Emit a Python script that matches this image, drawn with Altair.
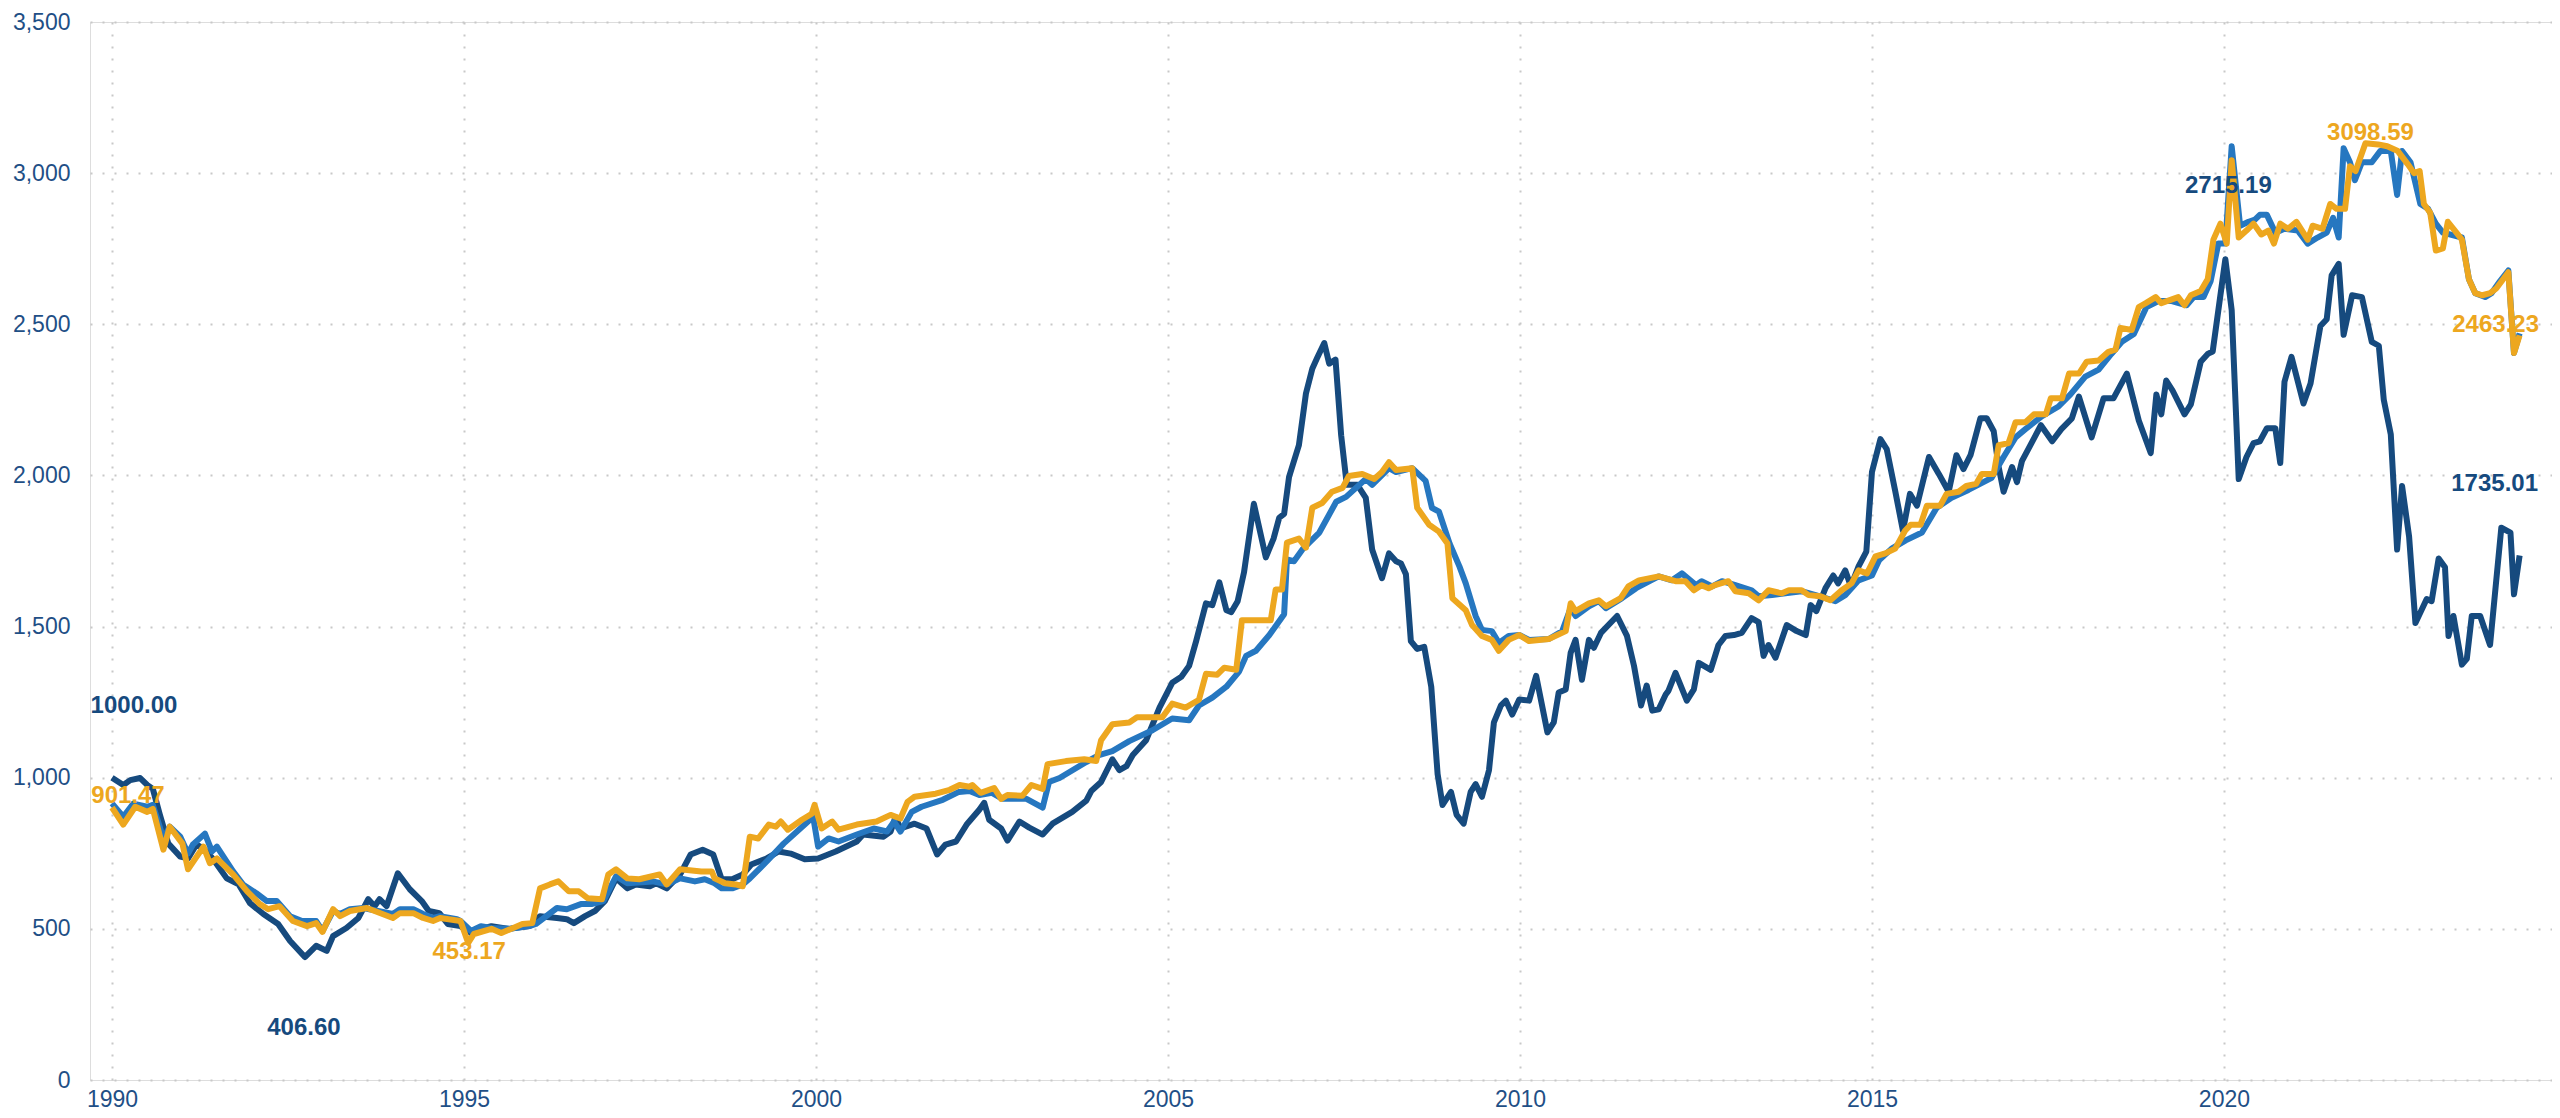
import altair as alt
import pandas as pd

# ---------------- data (decimal year, index value) ----------------
navy_t = [1990.00, 1990.16, 1990.26, 1990.40, 1990.50, 1990.58, 1990.68, 1990.80, 1990.97, 1991.08,
          1991.20, 1991.30, 1991.43, 1991.63, 1991.80, 1991.96, 1992.15, 1992.36, 1992.53, 1992.74,
          1992.90, 1993.05, 1993.14, 1993.33, 1993.50, 1993.64, 1993.73, 1993.80, 1993.90, 1994.06,
          1994.23, 1994.40, 1994.50, 1994.65, 1994.77, 1994.95, 1995.10, 1995.24, 1995.39, 1995.64,
          1995.93, 1996.08, 1996.32, 1996.46, 1996.56, 1996.72, 1996.86, 1997.00, 1997.16, 1997.32,
          1997.44, 1997.64, 1997.73, 1997.88, 1998.07, 1998.22, 1998.39, 1998.54, 1998.66, 1998.81,
          1998.96, 1999.08, 1999.30, 1999.47, 1999.64, 1999.84, 2000.03, 2000.28, 2000.58, 2000.67,
          2000.96, 2001.06, 2001.13, 2001.20, 2001.40, 2001.57, 2001.72, 2001.84, 2001.99, 2002.14,
          2002.32, 2002.39, 2002.46, 2002.63, 2002.72, 2002.89, 2003.03, 2003.22, 2003.36, 2003.64,
          2003.84, 2003.91, 2004.05, 2004.21, 2004.31, 2004.41, 2004.50, 2004.69, 2004.88, 2005.06,
          2005.19, 2005.30, 2005.40, 2005.54, 2005.63, 2005.73, 2005.83, 2005.90, 2005.99, 2006.08,
          2006.22, 2006.39, 2006.50, 2006.58, 2006.65, 2006.72, 2006.86, 2006.96, 2007.05, 2007.12,
          2007.22, 2007.29, 2007.38, 2007.46, 2007.54, 2007.69, 2007.81, 2007.90, 2008.04, 2008.14,
          2008.24, 2008.31, 2008.38, 2008.45, 2008.54, 2008.64, 2008.74, 2008.83, 2008.90, 2009.02,
          2009.10, 2009.20, 2009.30, 2009.37, 2009.46, 2009.56, 2009.63, 2009.73, 2009.80, 2009.89,
          2009.99, 2010.13, 2010.23, 2010.39, 2010.48, 2010.55, 2010.65, 2010.72, 2010.79, 2010.88,
          2010.98, 2011.05, 2011.15, 2011.38, 2011.52, 2011.62, 2011.72, 2011.80, 2011.88, 2011.97,
          2012.07, 2012.11, 2012.21, 2012.37, 2012.47, 2012.54, 2012.71, 2012.82, 2012.92, 2013.04,
          2013.15, 2013.29, 2013.39, 2013.46, 2013.53, 2013.63, 2013.79, 2013.93, 2014.06, 2014.13,
          2014.21, 2014.34, 2014.45, 2014.52, 2014.62, 2014.70, 2014.81, 2014.92, 2015.00, 2015.12,
          2015.21, 2015.33, 2015.44, 2015.54, 2015.64, 2015.81, 2015.95, 2016.09, 2016.20, 2016.30,
          2016.40, 2016.54, 2016.63, 2016.73, 2016.80, 2016.87, 2016.99, 2017.06, 2017.13, 2017.40,
          2017.56, 2017.69, 2017.84, 2017.94, 2018.12, 2018.29, 2018.43, 2018.62, 2018.79, 2018.96,
          2019.04, 2019.11, 2019.18, 2019.27, 2019.44, 2019.53, 2019.67, 2019.77, 2019.84, 2020.02,
          2020.11, 2020.21, 2020.32, 2020.42, 2020.51, 2020.61, 2020.73, 2020.80, 2020.86, 2020.96,
          2021.13, 2021.23, 2021.37, 2021.46, 2021.53, 2021.63, 2021.70, 2021.82, 2021.96, 2022.10,
          2022.20, 2022.27, 2022.37, 2022.46, 2022.53, 2022.63, 2022.72, 2022.88, 2022.95, 2023.05,
          2023.14, 2023.19, 2023.26, 2023.38, 2023.45, 2023.52, 2023.64, 2023.78, 2023.94, 2024.07,
          2024.12, 2024.20]
navy_v = [1000.00, 976, 992, 999, 976, 963, 877, 782, 739, 733,
          779, 766, 733, 667, 647, 585, 549, 516, 460, 406.60,
          444, 427, 476, 503, 536, 598, 575, 598, 575, 684,
          631, 592, 559, 552, 516, 509, 486, 500, 509, 500,
          509, 542, 536, 532, 519, 542, 559, 592, 667, 634,
          647, 641, 651, 634, 680, 746, 762, 746, 664, 664,
          680, 713, 733, 756, 749, 730, 733, 756, 789, 812,
          805, 822, 870, 832, 848, 832, 746, 779, 789, 845,
          894, 917, 861, 832, 792, 855, 835, 812, 848, 887,
          924, 956, 986, 1061, 1025, 1038, 1075, 1124, 1232, 1314,
          1334, 1370, 1452, 1577, 1571, 1646, 1554, 1548, 1584, 1679,
          1906, 1729, 1791, 1860, 1873, 1995, 2100, 2271, 2353, 2389,
          2438, 2370, 2383, 2133, 1969, 1969, 1926, 1755, 1660, 1742,
          1716, 1709, 1673, 1452, 1426, 1433, 1301, 1012, 910, 953,
          877, 848, 953, 979, 937, 1025, 1183, 1239, 1255, 1209,
          1259, 1255, 1337, 1150, 1183, 1282, 1292, 1413, 1456, 1324,
          1456, 1430, 1479, 1535, 1469, 1370, 1239, 1305, 1222, 1226,
          1275, 1288, 1347, 1255, 1292, 1380, 1357, 1439, 1469, 1472,
          1479, 1528, 1515, 1403, 1439, 1397, 1505, 1485, 1472, 1571,
          1551, 1627, 1669, 1643, 1686, 1633, 1699, 1748, 2011, 2120,
          2087, 1949, 1817, 1939, 1900, 2061, 2005, 1946, 2067, 2021,
          2067, 2189, 2189, 2146, 2028, 1946, 2028, 1978, 2047, 2166,
          2113, 2153, 2189, 2261, 2126, 2255, 2255, 2337, 2182, 2074,
          2268, 2202, 2314, 2281, 2202, 2235, 2376, 2402, 2410, 2715.19,
          2547, 1988, 2061, 2107, 2113, 2156, 2156, 2041, 2310, 2392,
          2238, 2304, 2494, 2517, 2662, 2700, 2465, 2596, 2590, 2442,
          2429, 2251, 2136, 1755, 1965, 1798, 1512, 1591, 1584, 1725,
          1696, 1469, 1535, 1374, 1393, 1535, 1535, 1439, 1827, 1811,
          1607, 1735.01]

blue_t = [1990.00, 1990.16, 1990.30, 1990.50, 1990.58, 1990.73, 1990.82, 1990.97, 1991.08, 1991.15,
          1991.32, 1991.42, 1991.49, 1991.72, 1991.86, 1992.05, 1992.20, 1992.34, 1992.53, 1992.70,
          1992.90, 1992.99, 1993.14, 1993.24, 1993.38, 1993.57, 1993.99, 1994.09, 1994.28, 1994.42,
          1994.56, 1994.66, 1994.90, 1994.95, 1995.10, 1995.24, 1995.39, 1995.64, 1995.93, 1996.02,
          1996.32, 1996.46, 1996.66, 1996.81, 1996.98, 1997.16, 1997.32, 1997.68, 1997.88, 1998.07,
          1998.28, 1998.42, 1998.56, 1998.66, 1998.81, 1998.96, 1999.06, 1999.30, 1999.54, 1999.84,
          1999.96, 2000.03, 2000.18, 2000.32, 2000.58, 2000.82, 2001.01, 2001.11, 2001.20, 2001.36,
          2001.50, 2001.80, 2002.03, 2002.18, 2002.32, 2002.50, 2002.65, 2002.99, 2003.22, 2003.31,
          2003.46, 2003.84, 2004.02, 2004.21, 2004.45, 2004.78, 2005.06, 2005.30, 2005.44, 2005.63,
          2005.83, 2006.01, 2006.11, 2006.25, 2006.44, 2006.65, 2006.69, 2006.79, 2006.91, 2007.15,
          2007.39, 2007.53, 2007.81, 2007.90, 2008.14, 2008.24, 2008.47, 2008.66, 2008.75, 2008.85,
          2009.00, 2009.14, 2009.23, 2009.37, 2009.46, 2009.60, 2009.70, 2009.84, 2009.99, 2010.13,
          2010.41, 2010.60, 2010.72, 2010.79, 2010.98, 2011.12, 2011.22, 2011.45, 2011.65, 2011.97,
          2012.16, 2012.30, 2012.50, 2012.58, 2012.73, 2012.87, 2013.06, 2013.29, 2013.39, 2013.58,
          2013.77, 2014.00, 2014.20, 2014.34, 2014.48, 2014.62, 2014.81, 2015.00, 2015.10, 2015.28,
          2015.48, 2015.71, 2015.92, 2016.13, 2016.37, 2016.70, 2016.87, 2017.04, 2017.18, 2017.41,
          2017.65, 2017.82, 2018.03, 2018.22, 2018.40, 2018.55, 2018.72, 2018.90, 2019.07, 2019.26,
          2019.47, 2019.57, 2019.71, 2019.81, 2019.92, 2020.02, 2020.11, 2020.23, 2020.35, 2020.44,
          2020.51, 2020.61, 2020.73, 2020.86, 2021.05, 2021.19, 2021.33, 2021.46, 2021.55, 2021.63,
          2021.70, 2021.79, 2021.86, 2021.96, 2022.10, 2022.22, 2022.37, 2022.46, 2022.53, 2022.65,
          2022.79, 2022.90, 2023.01, 2023.11, 2023.38, 2023.48, 2023.57, 2023.71, 2023.80, 2023.92,
          2024.04, 2024.12, 2024.20]
blue_v = [915, 871, 914, 904, 910, 799, 838, 805, 749, 779,
          815, 756, 772, 690, 647, 618, 592, 592, 542, 526,
          526, 493, 559, 549, 565, 569, 549, 565, 565, 549,
          536, 542, 532, 526, 493, 509, 503, 500, 509, 516,
          569, 565, 582, 582, 592, 674, 651, 657, 647, 667,
          657, 664, 651, 634, 634, 647, 667, 723, 782, 845,
          871, 772, 799, 789, 812, 832, 822, 855, 822, 887,
          904, 927, 953, 956, 943, 950, 930, 930, 901, 986,
          999, 1052, 1075, 1088, 1121, 1157, 1196, 1190, 1239, 1265,
          1301, 1351, 1403, 1420, 1472, 1541, 1722, 1716, 1755, 1811,
          1913, 1929, 1988, 1969, 2024, 2011, 2024, 1982, 1893, 1880,
          1775, 1699, 1643, 1535, 1489, 1485, 1446, 1469, 1472, 1456,
          1459, 1485, 1561, 1535, 1567, 1584, 1561, 1594, 1627, 1666,
          1653, 1676, 1637, 1650, 1633, 1650, 1637, 1620, 1600, 1604,
          1610, 1617, 1604, 1594, 1584, 1604, 1653, 1669, 1719, 1758,
          1785, 1811, 1893, 1926, 1952, 1992, 2061, 2126, 2153, 2195,
          2228, 2268, 2327, 2350, 2402, 2442, 2468, 2557, 2577, 2577,
          2563, 2590, 2590, 2642, 2767, 2767, 3089, 2826, 2839, 2846,
          2862, 2862, 2803, 2816, 2810, 2767, 2787, 2803, 2852, 2787,
          3082, 3036, 2977, 3036, 3036, 3073, 3073, 2928, 3073, 3036,
          2898, 2882, 2833, 2803, 2787, 2649, 2603, 2590, 2603, 2642,
          2678, 2405, 2470]

orange_t = [1990.00, 1990.16, 1990.33, 1990.50, 1990.58, 1990.73, 1990.82, 1991.00, 1991.08, 1991.30,
            1991.39, 1991.49, 1991.72, 1991.92, 1992.10, 1992.22, 1992.38, 1992.57, 1992.77, 1992.90,
            1992.99, 1993.14, 1993.24, 1993.38, 1993.62, 1993.99, 1994.09, 1994.28, 1994.42, 1994.56,
            1994.66, 1994.95, 1995.06, 1995.14, 1995.39, 1995.53, 1995.83, 1995.97, 1996.08, 1996.22,
            1996.34, 1996.49, 1996.63, 1996.76, 1996.96, 1997.05, 1997.16, 1997.32, 1997.49, 1997.78,
            1997.88, 1998.07, 1998.37, 1998.52, 1998.56, 1998.71, 1998.86, 1998.96, 1999.06, 1999.18,
            1999.33, 1999.43, 1999.50, 1999.60, 1999.80, 1999.94, 1999.98, 2000.08, 2000.23, 2000.32,
            2000.58, 2000.86, 2001.06, 2001.20, 2001.30, 2001.40, 2001.70, 2001.90, 2002.04, 2002.18,
            2002.22, 2002.34, 2002.53, 2002.63, 2002.72, 2002.93, 2003.06, 2003.22, 2003.29, 2003.55,
            2003.81, 2003.98, 2004.05, 2004.21, 2004.45, 2004.56, 2004.92, 2005.06, 2005.25, 2005.44,
            2005.54, 2005.70, 2005.80, 2005.97, 2006.05, 2006.46, 2006.53, 2006.62, 2006.69, 2006.86,
            2006.96, 2007.05, 2007.19, 2007.33, 2007.48, 2007.57, 2007.76, 2007.93, 2008.04, 2008.14,
            2008.24, 2008.47, 2008.54, 2008.71, 2008.85, 2008.97, 2009.04, 2009.23, 2009.32, 2009.46,
            2009.60, 2009.70, 2009.84, 2009.99, 2010.13, 2010.41, 2010.65, 2010.72, 2010.79, 2010.98,
            2011.12, 2011.22, 2011.43, 2011.54, 2011.69, 2011.97, 2012.21, 2012.35, 2012.47, 2012.58,
            2012.68, 2012.77, 2012.96, 2013.06, 2013.25, 2013.39, 2013.53, 2013.72, 2013.82, 2014.00,
            2014.10, 2014.27, 2014.41, 2014.57, 2014.71, 2014.81, 2014.93, 2015.05, 2015.19, 2015.33,
            2015.47, 2015.55, 2015.69, 2015.78, 2015.97, 2016.06, 2016.23, 2016.34, 2016.48, 2016.56,
            2016.73, 2016.80, 2016.94, 2017.04, 2017.18, 2017.30, 2017.47, 2017.54, 2017.70, 2017.80,
            2017.94, 2018.05, 2018.22, 2018.36, 2018.46, 2018.53, 2018.69, 2018.79, 2018.89, 2019.03,
            2019.11, 2019.35, 2019.44, 2019.53, 2019.67, 2019.77, 2019.85, 2019.95, 2020.04, 2020.11,
            2020.21, 2020.32, 2020.42, 2020.53, 2020.63, 2020.71, 2020.80, 2020.91, 2021.03, 2021.19,
            2021.26, 2021.40, 2021.51, 2021.60, 2021.72, 2021.79, 2021.87, 2022.01, 2022.19, 2022.32,
            2022.47, 2022.61, 2022.70, 2022.78, 2022.84, 2022.93, 2023.01, 2023.11, 2023.18, 2023.28,
            2023.38, 2023.48, 2023.57, 2023.67, 2023.78, 2023.87, 2024.04, 2024.12, 2024.20]
orange_v = [901.47, 845, 904, 887, 897, 762, 838, 782, 697, 772,
            717, 733, 680, 624, 582, 565, 575, 526, 509, 519,
            490, 565, 542, 559, 569, 536, 552, 552, 536, 526,
            536, 526, 453.17, 483, 500, 486, 516, 519, 634, 647,
            657, 624, 624, 601, 598, 680, 697, 667, 664, 680,
            647, 697, 690, 690, 667, 651, 647, 641, 805, 799,
            845, 838, 855, 828, 861, 881, 910, 832, 855, 828,
            845, 855, 877, 865, 920, 937, 947, 960, 976, 970,
            976, 950, 966, 930, 943, 940, 976, 963, 1045, 1055,
            1061, 1055, 1124, 1177, 1183, 1200, 1200, 1245, 1232, 1258,
            1344, 1341, 1364, 1357, 1521, 1521, 1623, 1623, 1778, 1791,
            1761, 1893, 1909, 1946, 1959, 1998, 2005, 1988, 2011, 2044,
            2018, 2024, 1893, 1837, 1814, 1775, 1594, 1554, 1505, 1469,
            1456, 1420, 1456, 1472, 1452, 1459, 1485, 1577, 1551, 1577,
            1587, 1567, 1594, 1633, 1653, 1666, 1650, 1650, 1620, 1637,
            1627, 1637, 1650, 1617, 1610, 1587, 1620, 1610, 1620, 1620,
            1604, 1600, 1587, 1620, 1643, 1686, 1676, 1732, 1742, 1758,
            1817, 1837, 1837, 1900, 1900, 1939, 1946, 1965, 1972, 2005,
            2005, 2100, 2107, 2176, 2176, 2202, 2202, 2255, 2255, 2337,
            2337, 2376, 2380, 2409, 2416, 2488, 2481, 2557, 2570, 2590,
            2570, 2590, 2563, 2596, 2610, 2650, 2780, 2833, 2767, 3043,
            2787, 2810, 2833, 2797, 2810, 2767, 2833, 2816, 2839, 2780,
            2826, 2816, 2898, 2882, 2882, 3023, 3007, 3098.59, 3095, 3089,
            3073, 3030, 3000, 3007, 2898, 2869, 2744, 2751, 2839, 2810,
            2780, 2649, 2603, 2596, 2603, 2619, 2672, 2405, 2463.23]

y_ticks = [0, 500, 1000, 1500, 2000, 2500, 3000, 3500]
x_ticks = [1990, 1995, 2000, 2005, 2010, 2015, 2020]

# ---------------- style ----------------
NAVY = "#164a7e"
BLUE = "#2677c0"
ORANGE = "#eda71f"
AXIS_COLOR = "#1f4f86"
FONT = "Liberation Sans"
GRID = dict(grid=True, gridColor="#c8c8c8", gridDash=[2, 10], gridWidth=2,
            domain=False, ticks=False, labelFont=FONT, labelFontSize=23,
            labelColor=AXIS_COLOR, title=None)

x_scale = alt.Scale(domain=[1989.6875, 2024.66], nice=False, zero=False)
y_scale = alt.Scale(domain=[0, 3500], nice=False, zero=True)
x_axis = alt.Axis(values=x_ticks, format="d", labelPadding=8, **GRID)
y_axis = alt.Axis(values=y_ticks, format=",d", labelPadding=20, **GRID)


def enc():
    return dict(x=alt.X("t:Q", scale=x_scale, axis=x_axis),
                y=alt.Y("v:Q", scale=y_scale, axis=y_axis))


def line(t, v, color):
    df = pd.DataFrame({"t": t, "v": v})
    return alt.Chart(df).mark_line(color=color, strokeWidth=6, strokeJoin="round").encode(**enc())


def label(t, v, color, dx, dy):
    df = pd.DataFrame({"t": [t], "v": [v], "label": [f"{v:.2f}"]})
    return alt.Chart(df).mark_text(font=FONT, fontSize=24, fontWeight="bold", color=color,
                                   align="center", baseline="middle", dx=dx, dy=dy).encode(
        text="label:N", **enc())


def idx_min(vals):
    return min(range(len(vals)), key=lambda i: vals[i])


def idx_max(vals):
    return max(range(len(vals)), key=lambda i: vals[i])


layers = [line(navy_t, navy_v, NAVY), line(blue_t, blue_v, BLUE), line(orange_t, orange_v, ORANGE)]

n0, nmin, nmax, nl = 0, idx_min(navy_v), idx_max(navy_v), len(navy_v) - 1
o0, omin, omax, ol = 0, idx_min(orange_v), idx_max(orange_v), len(orange_v) - 1
layers += [
    label(navy_t[n0], navy_v[n0], NAVY, 22, -72),
    label(orange_t[o0], orange_v[o0], ORANGE, 16, -11),
    label(navy_t[nmin], navy_v[nmin], NAVY, -1, 71),
    label(orange_t[omin], orange_v[omin], ORANGE, 1, 9),
    label(navy_t[nmax], navy_v[nmax], NAVY, 3, -73),
    label(orange_t[omax], orange_v[omax], ORANGE, 5, -10),
    label(orange_t[ol], orange_v[ol], ORANGE, -24, -10),
    label(navy_t[nl], navy_v[nl], NAVY, -25, -72),
]

chart = alt.layer(*layers).properties(
    width=2462, height=1058,
    autosize=alt.AutoSizeParams(type="none"),
    padding={"left": 82, "top": 14, "right": 0, "bottom": 30},
).configure_view(stroke=None).configure(background="white")

chart.save("out.html", embed_options={"renderer": "svg", "actions": False})
